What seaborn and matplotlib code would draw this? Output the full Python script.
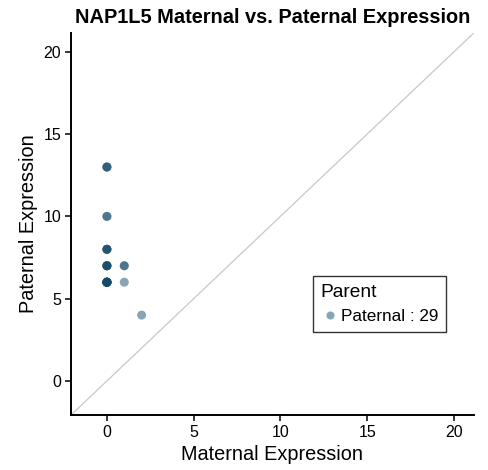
import matplotlib
matplotlib.use("Agg")
import matplotlib.pyplot as plt
import seaborn as sns
import pandas as pd

# Per-cell allele expression counts for NAP1L5
maternal = [0]*11 + [0]*5 + [0]*4 + [0]*2 + [0]*3 + [1]*2 + [1] + [2]
paternal = [6]*11 + [7]*5 + [8]*4 + [10]*2 + [13]*3 + [7]*2 + [6] + [4]
parent_label = "Paternal"

df = pd.DataFrame({"Maternal": maternal, "Paternal": paternal})
df["Parent"] = f"{parent_label} : {len(df)}"

sns.set_theme(style="ticks")
plt.rcParams["font.family"] = ["Liberation Sans", "DejaVu Sans"]
plt.rcParams["text.color"] = "black"

fig = plt.figure(figsize=(4.88, 4.70), dpi=100)
ax = fig.add_axes([0.1455, 0.117, 0.8255, 0.813])

lo, hi = -2.07, 21.15
ax.plot([lo, hi], [lo, hi], color="#c8c8c8", lw=0.9, zorder=1)

sns.scatterplot(data=df, x="Maternal", y="Paternal", hue="Parent",
                palette=["#154b69"], alpha=0.5, s=42, edgecolor="none",
                ax=ax, zorder=3)

ax.set_xlim(lo, hi)
ax.set_ylim(lo, hi)
ax.set_xticks([0, 5, 10, 15, 20])
ax.set_yticks([0, 5, 10, 15, 20])
ax.tick_params(axis="both", labelsize=11.5, length=4, width=1.1, color="black",
               labelcolor="black", pad=3)
for side in ("left", "bottom"):
    ax.spines[side].set_linewidth(1.4)
    ax.spines[side].set_color("black")
sns.despine(ax=ax)

ax.set_xlabel("Maternal Expression", fontsize=14.3, color="black")
ax.set_ylabel("Paternal Expression", fontsize=14.3, color="black")
ax.set_title("NAP1L5 Maternal vs. Paternal Expression", fontsize=14.4,
             fontweight="bold", pad=7, color="black")

leg = ax.legend(title="Parent", loc="upper left", bbox_to_anchor=(0.60, 0.364),
                borderaxespad=0, fontsize=12.3, title_fontsize=13.8,
                frameon=True, fancybox=False, handletextpad=0.1,
                borderpad=0.45, handlelength=1.1, markerscale=0.9)
leg._legend_box.align = "left"
leg.get_frame().set_edgecolor("black")
leg.get_frame().set_linewidth(1.0)
for t in leg.get_texts():
    t.set_color("black")
leg.get_title().set_color("black")

fig.savefig("out.png", dpi=100)
